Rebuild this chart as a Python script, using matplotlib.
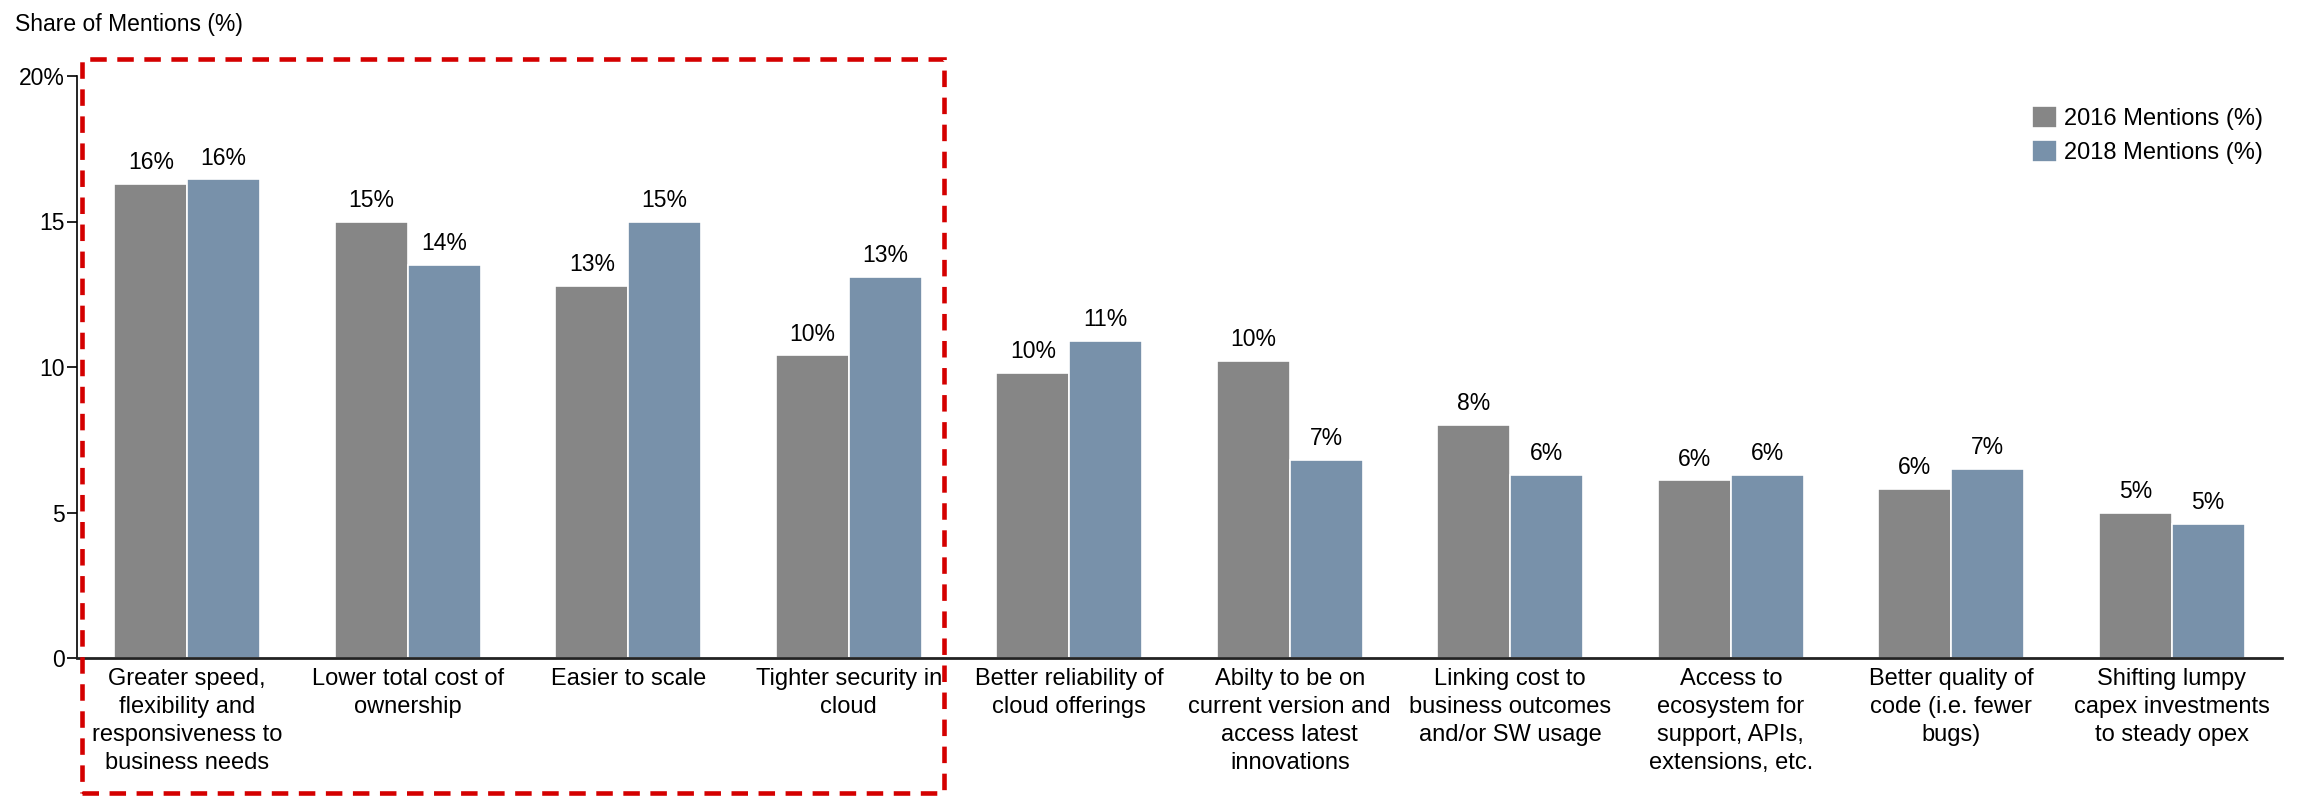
import matplotlib.pyplot as plt
import matplotlib.patches as mpatches
import numpy as np

plt.rcParams['font.family'] = ['Liberation Sans', 'DejaVu Sans']

# categories and values
CATEGORIES = ['Greater speed,\nflexibility and\nresponsiveness to\nbusiness needs',
              'Lower total cost of\nownership',
              'Easier to scale',
              'Tighter security in\ncloud',
              'Better reliability of\ncloud offerings',
              'Abilty to be on\ncurrent version and\naccess latest\ninnovations',
              'Linking cost to\nbusiness outcomes\nand/or SW usage',
              'Access to\necosystem for\nsupport, APIs,\nextensions, etc.',
              'Better quality of\ncode (i.e. fewer\nbugs)',
              'Shifting lumpy\ncapex investments\nto steady opex']
VALUES_2016 = [16.3, 15.0, 12.8, 10.4, 9.8, 10.2, 8.0, 6.1, 5.8, 5.0]
VALUES_2018 = [16.45, 13.5, 15.0, 13.1, 10.9, 6.8, 6.3, 6.3, 6.5, 4.6]
LABELS_2016 = ['16%', '15%', '13%', '10%', '10%', '10%', '8%', '6%', '6%', '5%']
LABELS_2018 = ['16%', '14%', '15%', '13%', '11%', '7%', '6%', '6%', '7%', '5%']
YTICKS = [0, 5, 10, 15, 20]
YTICK_LABELS = ['0', '5', '10', '15', '20%']

GRAY = '#868686'
BLUE = '#7891aa'
W_PX, H_PX = 2301, 796

fig = plt.figure(figsize=(W_PX / 100, H_PX / 100), dpi=100)
ax = fig.add_axes([77 / W_PX, 1 - 658 / H_PX, (2282 - 77) / W_PX, (658 - 76) / H_PX])

x = np.arange(len(CATEGORIES))
bw = 0.33
b1 = ax.bar(x - bw / 2, VALUES_2016, bw, color=GRAY, edgecolor='white', linewidth=1.2,
            label='2016 Mentions (%)')
b2 = ax.bar(x + bw / 2, VALUES_2018, bw, color=BLUE, edgecolor='white', linewidth=1.2,
            label='2018 Mentions (%)')

for bars, labels in ((b1, LABELS_2016), (b2, LABELS_2018)):
    for rect, lab in zip(bars, labels):
        ax.annotate(lab, (rect.get_x() + rect.get_width() / 2, rect.get_height()),
                    xytext=(0, 7), textcoords='offset points', ha='center', va='bottom',
                    fontsize=16.5)

ax.set_xlim(-0.5, 9.5)
ax.set_ylim(0, 20)
ax.set_yticks(YTICKS)
ax.set_yticklabels(YTICK_LABELS, fontsize=16.5)
ax.set_xticks(x)
ax.set_xticklabels(CATEGORIES, fontsize=17, linespacing=1.36, va='top')
ax.tick_params(axis='x', length=0, pad=7)
ax.tick_params(axis='y', length=7, width=1.2, pad=2)

ax.spines['top'].set_visible(False)
ax.spines['right'].set_visible(False)
ax.spines['left'].set_linewidth(1.2)
ax.spines['bottom'].set_linewidth(2)
ax.spines['bottom'].set_color('#222222')

fig.text(15 / W_PX, 1 - 24 / H_PX, 'Share of Mentions (%)', fontsize=16.5, va='center', ha='left')

# red dashed highlight box around the first four categories
box = mpatches.Rectangle((82 / W_PX, 1 - 793 / H_PX), (944 - 82) / W_PX, (793 - 59) / H_PX,
                         transform=fig.transFigure, fill=False, edgecolor='#d40000',
                         linewidth=3.3, linestyle=(0, (3.6, 2.3)), clip_on=False)
fig.add_artist(box)

leg = fig.legend(loc='upper left', bbox_to_anchor=(2032 / W_PX, 1 - 106 / H_PX),
                 frameon=False, fontsize=17, handlelength=1.05, handleheight=1.05,
                 handletextpad=0.3, labelspacing=0.42, borderpad=0, borderaxespad=0)

fig.savefig('out.png', dpi=100)
